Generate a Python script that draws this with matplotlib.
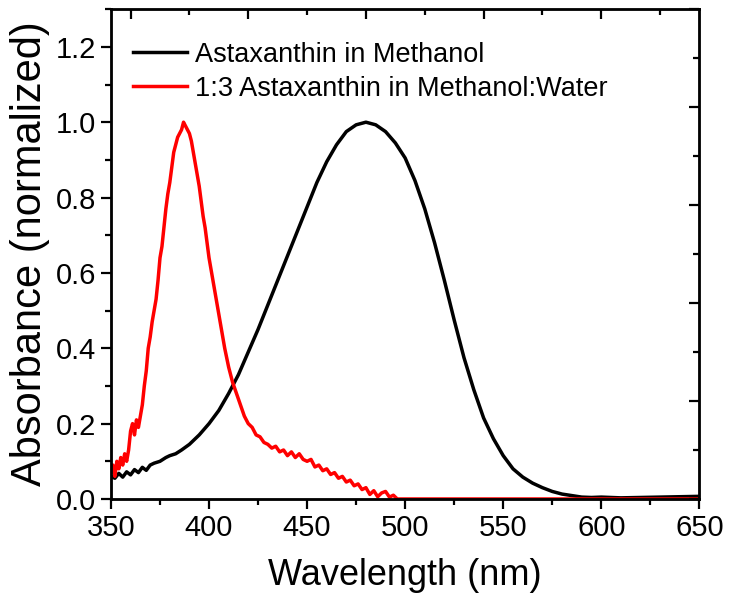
import matplotlib
matplotlib.use('Agg')
import matplotlib.pyplot as plt
from matplotlib.ticker import MultipleLocator

plt.rcParams['font.family'] = ['Liberation Sans', 'DejaVu Sans']

# Astaxanthin in methanol (normalized absorbance)
meoh_wl = [350, 352, 354, 356, 358, 360, 362, 364, 366, 368, 370, 372, 375, 378,
           380, 383, 386, 390, 395, 400, 405, 410, 415, 420, 425, 430, 435, 440,
           445, 450, 455, 460, 465, 470, 475, 480, 485, 490, 495, 500, 505, 510,
           515, 520, 525, 530, 535, 540, 545, 550, 555, 560, 565, 570, 575, 580,
           585, 590, 595, 600, 610, 620, 630, 640, 650]
meoh_abs = [0.06, 0.055, 0.068, 0.058, 0.072, 0.064, 0.078, 0.07, 0.084, 0.076,
            0.09, 0.095, 0.10, 0.11, 0.115, 0.12, 0.13, 0.145, 0.17, 0.20, 0.235,
            0.28, 0.33, 0.39, 0.45, 0.515, 0.58, 0.645, 0.71, 0.775, 0.84, 0.895,
            0.94, 0.975, 0.993, 1.0, 0.993, 0.975, 0.945, 0.905, 0.845, 0.77,
            0.68, 0.58, 0.475, 0.375, 0.29, 0.215, 0.16, 0.115, 0.08, 0.058,
            0.042, 0.03, 0.02, 0.013, 0.009, 0.005, 0.004, 0.005, 0.003, 0.004,
            0.005, 0.006, 0.007]

# 1:3 astaxanthin in methanol:water (aggregate)
water_wl = [350, 351, 352, 353, 354, 355, 356, 357, 358, 359, 360, 361, 362, 363,
            364, 365, 366, 367, 368, 369, 370, 371, 372, 373, 374, 375, 376, 377,
            378, 379, 380, 381, 382, 383, 384, 385, 386, 387, 388, 389, 390, 391,
            392, 393, 394, 395, 396, 397, 398, 399, 400, 402, 404, 406, 408, 410,
            412, 414, 416, 418, 420, 422, 424, 426, 428, 430, 432, 434, 436, 438,
            440, 442, 444, 446, 448, 450, 452, 454, 456, 458, 460, 462, 464, 466,
            468, 470, 472, 474, 476, 478, 480, 482, 484, 486, 488, 490, 492, 494,
            496, 500, 650]
water_abs = [0.07, 0.09, 0.06, 0.10, 0.08, 0.11, 0.09, 0.12, 0.10, 0.13, 0.18,
             0.20, 0.17, 0.21, 0.19, 0.22, 0.25, 0.30, 0.34, 0.40, 0.43, 0.47,
             0.50, 0.53, 0.58, 0.64, 0.67, 0.72, 0.77, 0.81, 0.84, 0.88, 0.92,
             0.94, 0.96, 0.97, 0.98, 1.0, 0.99, 0.98, 0.97, 0.95, 0.92, 0.89,
             0.86, 0.83, 0.79, 0.75, 0.72, 0.68, 0.64, 0.58, 0.52, 0.46, 0.40,
             0.35, 0.31, 0.28, 0.25, 0.22, 0.20, 0.19, 0.17, 0.165, 0.15, 0.145,
             0.135, 0.14, 0.125, 0.13, 0.115, 0.125, 0.11, 0.12, 0.105, 0.10,
             0.105, 0.085, 0.09, 0.075, 0.08, 0.065, 0.07, 0.055, 0.06, 0.045,
             0.05, 0.035, 0.04, 0.025, 0.03, 0.012, 0.022, 0.006, 0.016, 0.02,
             0.005, 0.01, 0.0, 0.0, 0.0]

fig = plt.figure(figsize=(7.3, 6.1), dpi=100)
ax = fig.add_axes([0.152, 0.182, 0.806, 0.803])

ax.plot(meoh_wl, meoh_abs, color='black', lw=2.5, label='Astaxanthin in Methanol')
ax.plot(water_wl, water_abs, color='#ff0000', lw=2.5,
        label='1:3 Astaxanthin in Methanol:Water')

ax.set_xlim(350, 650)
ax.set_ylim(0, 1.3)
ax.xaxis.set_major_locator(MultipleLocator(50))
ax.xaxis.set_minor_locator(MultipleLocator(25))
ax.yaxis.set_major_locator(MultipleLocator(0.2))
ax.yaxis.set_minor_locator(MultipleLocator(0.1))
ax.yaxis.set_major_formatter(plt.FormatStrFormatter('%.1f'))
ax.tick_params(which='major', direction='out', length=7, width=1.6, labelsize=21)
ax.tick_params(which='minor', direction='out', length=4, width=1.6)
for s in ax.spines.values():
    s.set_linewidth(2.0)

# mirrored top/right axes with their own inward ticks
top = ax.twiny()
top.set_xlim(350, 650)
top.xaxis.set_major_locator(MultipleLocator(60))
top.xaxis.set_minor_locator(MultipleLocator(30))
top.tick_params(which='both', direction='in', labeltop=False, width=1.6)
top.tick_params(which='major', length=7)
top.tick_params(which='minor', length=4)

right = ax.twinx()
right.set_ylim(0, 1.3)
right.yaxis.set_major_locator(MultipleLocator(0.26))
right.yaxis.set_minor_locator(MultipleLocator(0.13))
right.tick_params(which='both', direction='in', labelright=False, width=1.6)
right.tick_params(which='major', length=7)
right.tick_params(which='minor', length=4)

ax.set_xlabel('Wavelength (nm)', fontsize=26, labelpad=12)
ax.set_ylabel('Absorbance (normalized)', fontsize=30, labelpad=4)

ax.legend(loc='upper left', bbox_to_anchor=(0.0, 0.978), frameon=False,
          fontsize=19.5, handlelength=2.0, handletextpad=0.3, labelspacing=0.3,
          borderaxespad=0.4)

fig.savefig('out.png', dpi=100)
